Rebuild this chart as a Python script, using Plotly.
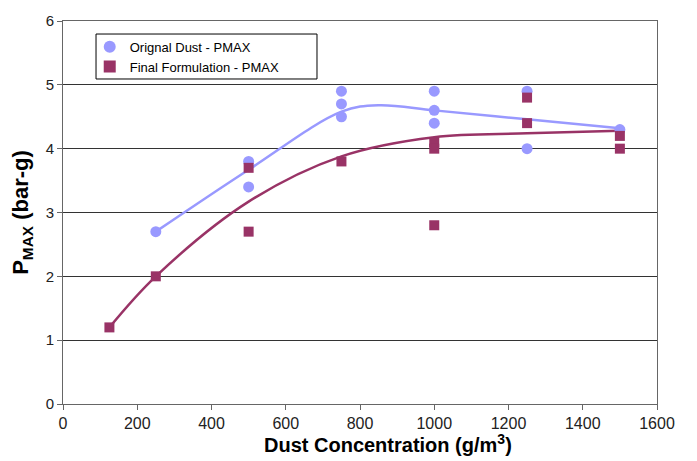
import plotly.graph_objects as go

# Data
orig_x = [250, 500, 500, 750, 750, 750, 1000, 1000, 1000, 1250, 1250, 1500]
orig_y = [2.7, 3.8, 3.4, 4.9, 4.7, 4.5, 4.9, 4.6, 4.4, 4.9, 4.0, 4.3]
final_x = [125, 250, 500, 500, 750, 1000, 1000, 1000, 1250, 1250, 1500, 1500]
final_y = [1.2, 2.0, 3.7, 2.7, 3.8, 4.1, 4.0, 2.8, 4.8, 4.4, 4.2, 4.0]

orig_fit_x = [250, 500, 750, 850, 1000, 1250, 1500]
orig_fit_y = [2.7, 3.67, 4.58, 4.68, 4.6, 4.46, 4.32]
final_fit_x = [125, 250, 500, 750, 1000, 1250, 1500]
final_fit_y = [1.2, 2.0, 3.17, 3.88, 4.18, 4.24, 4.28]

x_title = "<b>Dust Concentration (g/m<sup>3</sup>)</b>"
y_title = "<b>P<sub>MAX</sub> (bar-g)</b>"

blue = "#9999FF"
red = "#993366"

fig = go.Figure()
fig.add_trace(go.Scatter(x=orig_fit_x, y=orig_fit_y, mode="lines",
                         line=dict(color=blue, width=2.5, shape="spline", smoothing=1.0),
                         showlegend=False, hoverinfo="skip"))
fig.add_trace(go.Scatter(x=final_fit_x, y=final_fit_y, mode="lines",
                         line=dict(color=red, width=2.5, shape="spline", smoothing=1.0),
                         showlegend=False, hoverinfo="skip"))
fig.add_trace(go.Scatter(x=orig_x, y=orig_y, mode="markers", name="Orignal Dust - PMAX",
                         marker=dict(symbol="circle", size=11, color=blue)))
fig.add_trace(go.Scatter(x=final_x, y=final_y, mode="markers", name="Final Formulation - PMAX",
                         marker=dict(symbol="square", size=10, color=red)))

font_family = "Liberation Sans, Arial, sans-serif"

# legend frame (paper coords)
fig.add_shape(type="rect", xref="paper", yref="paper",
              x0=0.0556, x1=0.4276, y0=0.8486, y1=0.966,
              line=dict(color="#000", width=1), fillcolor="white", layer="below")

# x-axis title
fig.add_annotation(text=x_title, xref="paper", yref="paper", x=0.547, y=-0.103,
                   xanchor="center", yanchor="middle", showarrow=False,
                   font=dict(size=20, family=font_family, color="#000"))

fig.update_layout(
    width=697, height=461,
    margin=dict(l=63, r=40, t=21, b=57),
    paper_bgcolor="white", plot_bgcolor="white",
    font=dict(family=font_family, color="#000"),
    legend=dict(x=0.045, y=0.972, xanchor="left", yanchor="top",
                borderwidth=0, bgcolor="rgba(0,0,0,0)",
                font=dict(size=13, family=font_family), itemsizing="constant",
                tracegroupgap=4, itemwidth=30),
    xaxis=dict(range=[0, 1600], dtick=200, showgrid=False, zeroline=False,
               showline=True, linecolor="#666", linewidth=1, mirror=True,
               ticks="outside", ticklen=5, tickcolor="#666",
               tickfont=dict(size=16, color="#222")),
    yaxis=dict(range=[0, 6], dtick=1, showgrid=True, gridcolor="#333", gridwidth=1,
               zeroline=False, showline=True, linecolor="#666", linewidth=1, mirror=True,
               ticks="outside", ticklen=5, tickcolor="#666",
               tickfont=dict(size=15, color="#222"),
               title=dict(text=y_title, font=dict(size=22), standoff=10)),
)

fig.write_html("out.html")
